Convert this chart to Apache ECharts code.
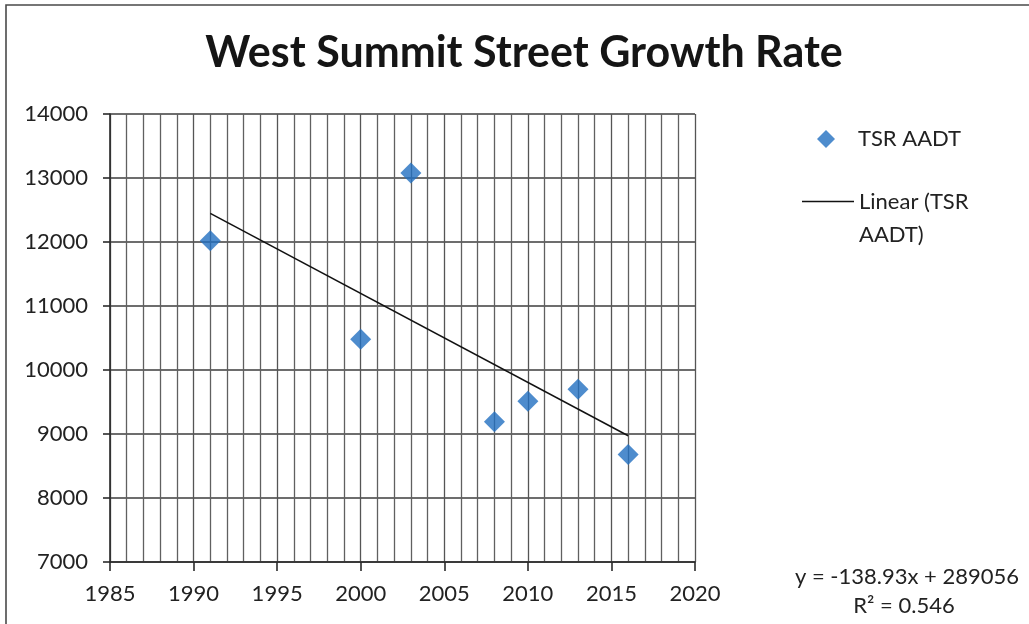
<!DOCTYPE html>
<html>
<head>
<meta charset="utf-8">
<style>
  html, body { margin: 0; padding: 0; background: #fff; }
  #chart { width: 1029px; height: 624px; }
</style>
<script src="https://cdn.jsdelivr.net/npm/echarts@6/dist/echarts.min.js"></script>
</head>
<body>
<div id="chart"></div>
<script>
// Traffic counts (AADT) by survey year
const years = [1991, 2000, 2003, 2008, 2010, 2013, 2016];
const aadt  = [12020, 10480, 13080, 9190, 9510, 9700, 8680];

// Linear trendline coefficients and fit quality
const slope = -138.93;
const intercept = 289056;
const rSquared = 0.546;

const FONT = 'Lato, "Open Sans", sans-serif';
const TEXT = '#222';

const points = years.map((y, i) => [y, aadt[i]]);
const xFirst = years[0];
const xLast = years[years.length - 1];
const trend = [
  [xFirst, slope * xFirst + intercept],
  [xLast, slope * xLast + intercept]
];

const chart = echarts.init(document.getElementById('chart'), null, { renderer: 'canvas' });
chart.setOption({
  backgroundColor: '#ffffff',
  animation: false,
  title: {
    text: 'West Summit Street Growth Rate',
    left: 519,
    textAlign: 'center',
    top: 27,
    textStyle: { fontFamily: FONT, fontSize: 43, fontWeight: 'bold', color: '#151515' }
  },
  legend: [
    {
      data: [{ name: 'TSR AADT', icon: 'diamond' }],
      left: 817, top: 128, padding: 0,
      itemWidth: 18, itemHeight: 18,
      textStyle: { fontFamily: FONT, fontSize: 22, color: TEXT, padding: [0, 0, 0, 18] }
    },
    {
      data: [{ name: 'Linear (TSR AADT)', icon: 'rect' }],
      left: 802, top: 152, padding: 0,
      itemWidth: 52, itemHeight: 1.6,
      // empty first line keeps the "Linear" line level with the icon
      formatter: () => ' \nLinear (TSR\nAADT)',
      textStyle: { fontFamily: FONT, fontSize: 22, color: TEXT, lineHeight: 33 }
    }
  ],
  grid: { left: 110, right: 334, top: 114, bottom: 62 },
  xAxis: {
    type: 'value',
    min: 1985, max: 2020, interval: 5,
    axisLine: { show: true, lineStyle: { color: '#2a2a2a', width: 1.6 } },
    axisTick: { show: true, inside: false, length: 9, lineStyle: { color: '#2a2a2a', width: 1.6 } },
    minorTick: { show: false, splitNumber: 5 },
    splitLine: { show: true, lineStyle: { color: '#555', width: 1.3 } },
    minorSplitLine: { show: true, lineStyle: { color: '#606060', width: 1.3 } },
    axisLabel: { fontFamily: FONT, fontSize: 22, color: TEXT, margin: 21, formatter: v => String(v) }
  },
  yAxis: {
    type: 'value',
    min: 7000, max: 14000, interval: 1000,
    axisLine: { show: true, lineStyle: { color: '#2a2a2a', width: 1.6 } },
    axisTick: { show: true, inside: false, length: 7, lineStyle: { color: '#2a2a2a', width: 1.6 } },
    splitLine: { show: true, lineStyle: { color: '#3c3c3c', width: 1.6 } },
    axisLabel: { fontFamily: FONT, fontSize: 22, color: TEXT, margin: 22, formatter: v => String(v) }
  },
  series: [
    {
      name: 'TSR AADT',
      type: 'scatter',
      symbol: 'diamond',
      symbolSize: 21,
      itemStyle: { color: '#226fc0' },
      data: points,
      z: 5
    },
    {
      name: 'Linear (TSR AADT)',
      type: 'line',
      symbol: 'none',
      lineStyle: { color: '#111', width: 1.5 },
      itemStyle: { color: '#111' },
      data: trend,
      z: 4
    }
  ],
  graphic: [
    {
      type: 'rect',
      silent: true,
      shape: { x: 6, y: 5, width: 1030, height: 640 },
      style: { fill: 'none', stroke: '#4a4a4a', lineWidth: 1.6 }
    },
    {
      type: 'text',
      x: 907, y: 577,
      style: {
        text: 'y = ' + slope.toFixed(2) + 'x + ' + intercept,
        align: 'center', verticalAlign: 'middle',
        fontFamily: FONT, fontSize: 22, fill: TEXT
      }
    },
    {
      type: 'text',
      x: 904, y: 606,
      style: {
        text: 'R\u00b2 = ' + rSquared.toFixed(3),
        align: 'center', verticalAlign: 'middle',
        fontFamily: FONT, fontSize: 22, fill: TEXT
      }
    }
  ]
});
</script>
</body>
</html>
